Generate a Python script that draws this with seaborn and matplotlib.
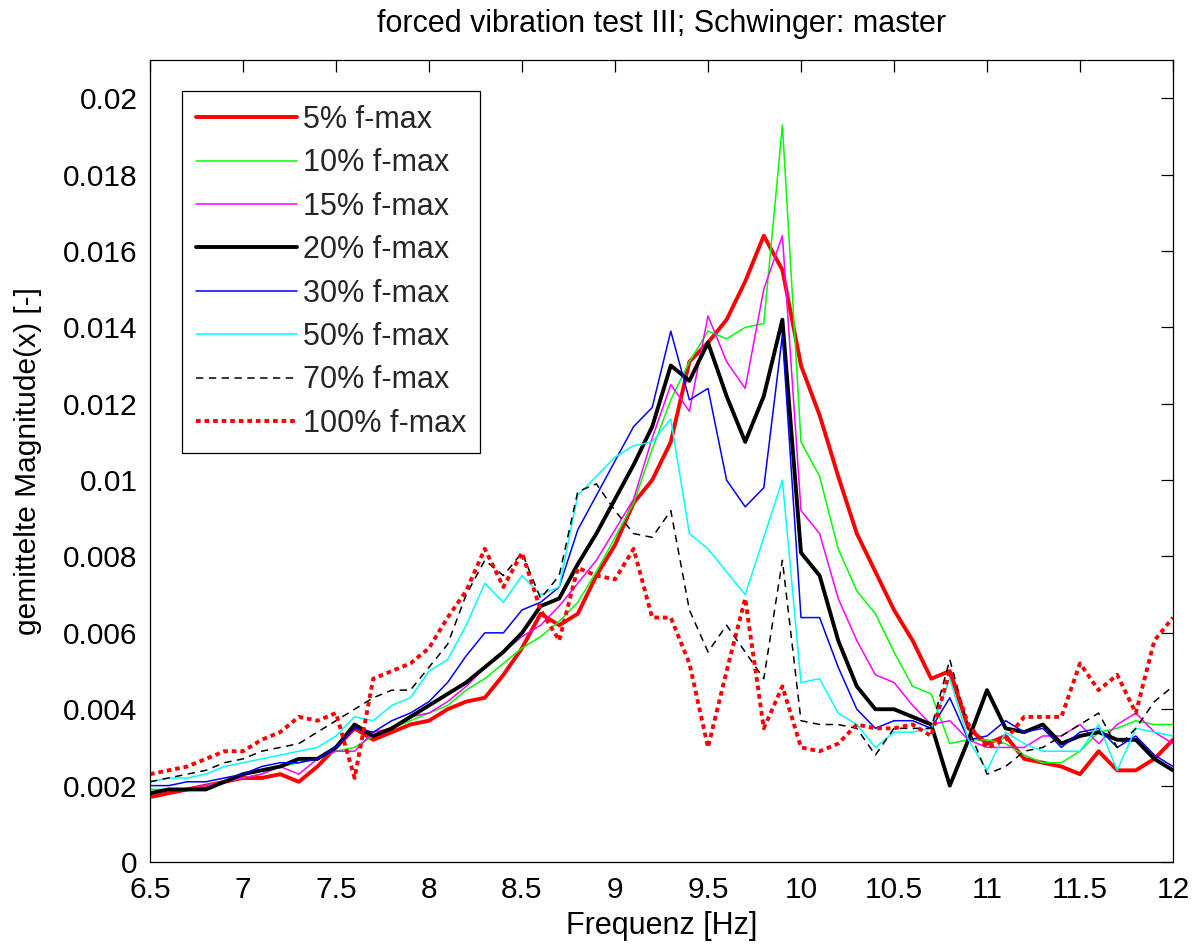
import numpy as np
import pandas as pd
import matplotlib
matplotlib.use("Agg")
import matplotlib.pyplot as plt
import seaborn as sns

# ---------------- data ----------------
freq = [6.5, 6.6, 6.7, 6.8, 6.9, 7.0, 7.1, 7.2, 7.3, 7.4,
        7.5, 7.6, 7.7, 7.8, 7.9, 8.0, 8.1, 8.2, 8.3, 8.4,
        8.5, 8.6, 8.7, 8.8, 8.9, 9.0, 9.1, 9.2, 9.3, 9.4,
        9.5, 9.6, 9.7, 9.8, 9.9, 10.0, 10.1, 10.2, 10.3, 10.4,
        10.5, 10.6, 10.7, 10.8, 10.9, 11.0, 11.1, 11.2, 11.3, 11.4,
        11.5, 11.6, 11.7, 11.8, 11.9, 12.0]

mag_05 = [0.0017, 0.0018, 0.0019, 0.0020, 0.0021, 0.0022, 0.0022, 0.0023, 0.0021, 0.0025,
          0.0030, 0.0035, 0.0032, 0.0034, 0.0036, 0.0037, 0.0040, 0.0042, 0.0043, 0.0049,
          0.0056, 0.0065, 0.0062, 0.0065, 0.0075, 0.0083, 0.0094, 0.0100, 0.0110, 0.0131,
          0.0136, 0.0142, 0.0152, 0.0164, 0.0155, 0.0130, 0.0117, 0.0101, 0.0086, 0.0076,
          0.0066, 0.0058, 0.0048, 0.0050, 0.0035, 0.0031, 0.0033, 0.0027, 0.0026, 0.0025,
          0.0023, 0.0029, 0.0024, 0.0024, 0.0027, 0.0032]

mag_10 = [0.0019, 0.0019, 0.0019, 0.0020, 0.0021, 0.0022, 0.0023, 0.0025, 0.0026, 0.0027,
          0.0029, 0.0030, 0.0033, 0.0035, 0.0037, 0.0039, 0.0041, 0.0045, 0.0048, 0.0052,
          0.0056, 0.0059, 0.0063, 0.0068, 0.0076, 0.0085, 0.0094, 0.0108, 0.0121, 0.0131,
          0.0139, 0.0137, 0.0140, 0.0141, 0.0193, 0.0110, 0.0101, 0.0082, 0.0071, 0.0065,
          0.0055, 0.0046, 0.0044, 0.0031, 0.0032, 0.0032, 0.0031, 0.0028, 0.0026, 0.0026,
          0.0029, 0.0034, 0.0035, 0.0037, 0.0036, 0.0036]

mag_15 = [0.0018, 0.0019, 0.0019, 0.0020, 0.0021, 0.0022, 0.0023, 0.0025, 0.0023, 0.0027,
          0.0029, 0.0029, 0.0034, 0.0035, 0.0038, 0.0039, 0.0042, 0.0046, 0.0051, 0.0055,
          0.0059, 0.0062, 0.0067, 0.0073, 0.0079, 0.0087, 0.0095, 0.0111, 0.0125, 0.0118,
          0.0143, 0.0131, 0.0124, 0.0150, 0.0164, 0.0092, 0.0086, 0.0069, 0.0058, 0.0049,
          0.0047, 0.0041, 0.0036, 0.0037, 0.0032, 0.0030, 0.0030, 0.0030, 0.0033, 0.0033,
          0.0036, 0.0031, 0.0036, 0.0039, 0.0034, 0.0031]

mag_20 = [0.0018, 0.0019, 0.0019, 0.0019, 0.0021, 0.0023, 0.0024, 0.0025, 0.0027, 0.0027,
          0.0030, 0.0036, 0.0033, 0.0035, 0.0038, 0.0041, 0.0044, 0.0047, 0.0051, 0.0055,
          0.0060, 0.0067, 0.0069, 0.0078, 0.0086, 0.0095, 0.0104, 0.0114, 0.0130, 0.0126,
          0.0136, 0.0122, 0.0110, 0.0122, 0.0142, 0.0081, 0.0075, 0.0058, 0.0046, 0.0040,
          0.0040, 0.0038, 0.0036, 0.0020, 0.0032, 0.0045, 0.0035, 0.0034, 0.0036, 0.0031,
          0.0033, 0.0034, 0.0032, 0.0032, 0.0027, 0.0024]

mag_30 = [0.0020, 0.0020, 0.0021, 0.0021, 0.0022, 0.0023, 0.0025, 0.0026, 0.0026, 0.0027,
          0.0030, 0.0035, 0.0034, 0.0037, 0.0039, 0.0042, 0.0047, 0.0054, 0.0060, 0.0060,
          0.0066, 0.0068, 0.0072, 0.0087, 0.0096, 0.0105, 0.0114, 0.0119, 0.0139, 0.0121,
          0.0124, 0.0100, 0.0093, 0.0098, 0.0138, 0.0064, 0.0064, 0.0051, 0.0040, 0.0035,
          0.0037, 0.0037, 0.0035, 0.0043, 0.0032, 0.0033, 0.0037, 0.0034, 0.0035, 0.0030,
          0.0034, 0.0035, 0.0030, 0.0033, 0.0028, 0.0025]

mag_50 = [0.0021, 0.0022, 0.0022, 0.0023, 0.0025, 0.0026, 0.0027, 0.0028, 0.0029, 0.0030,
          0.0033, 0.0038, 0.0037, 0.0041, 0.0043, 0.0050, 0.0053, 0.0062, 0.0073, 0.0068,
          0.0075, 0.0070, 0.0072, 0.0096, 0.0101, 0.0106, 0.0109, 0.0110, 0.0116, 0.0086,
          0.0082, 0.0076, 0.0070, 0.0085, 0.0100, 0.0047, 0.0048, 0.0039, 0.0036, 0.0030,
          0.0034, 0.0034, 0.0035, 0.0048, 0.0032, 0.0024, 0.0034, 0.0031, 0.0029, 0.0029,
          0.0029, 0.0036, 0.0024, 0.0035, 0.0034, 0.0033]

mag_70 = [0.0021, 0.0022, 0.0023, 0.0024, 0.0026, 0.0027, 0.0029, 0.0030, 0.0031, 0.0034,
          0.0037, 0.0040, 0.0043, 0.0045, 0.0045, 0.0051, 0.0057, 0.0070, 0.0079, 0.0075,
          0.0081, 0.0069, 0.0075, 0.0097, 0.0099, 0.0092, 0.0086, 0.0085, 0.0092, 0.0066,
          0.0055, 0.0062, 0.0055, 0.0048, 0.0079, 0.0037, 0.0036, 0.0036, 0.0035, 0.0028,
          0.0035, 0.0035, 0.0035, 0.0053, 0.0035, 0.0023, 0.0025, 0.0029, 0.0030, 0.0033,
          0.0036, 0.0039, 0.0030, 0.0035, 0.0042, 0.0046]

mag_100 = [0.0023, 0.0024, 0.0025, 0.0027, 0.0029, 0.0029, 0.0032, 0.0034, 0.0038, 0.0037,
           0.0039, 0.0022, 0.0048, 0.0050, 0.0052, 0.0056, 0.0064, 0.0071, 0.0082, 0.0072,
           0.0081, 0.0066, 0.0058, 0.0077, 0.0075, 0.0074, 0.0082, 0.0064, 0.0064, 0.0052,
           0.0030, 0.0050, 0.0069, 0.0035, 0.0046, 0.0030, 0.0029, 0.0031, 0.0036, 0.0035,
           0.0035, 0.0036, 0.0033, 0.0050, 0.0036, 0.0030, 0.0032, 0.0038, 0.0038, 0.0038,
           0.0052, 0.0045, 0.0049, 0.0039, 0.0058, 0.0064]

series_labels = ["5% f-max", "10% f-max", "15% f-max", "20% f-max",
                 "30% f-max", "50% f-max", "70% f-max", "100% f-max"]
series_values = [mag_05, mag_10, mag_15, mag_20, mag_30, mag_50, mag_70, mag_100]

x_ticks = [6.5, 7, 7.5, 8, 8.5, 9, 9.5, 10, 10.5, 11, 11.5, 12]
x_tick_labels = ["6.5", "7", "7.5", "8", "8.5", "9", "9.5", "10", "10.5", "11", "11.5", "12"]
y_ticks = [0, 0.002, 0.004, 0.006, 0.008, 0.01, 0.012, 0.014, 0.016, 0.018, 0.02]
y_tick_labels = ["0", "0.002", "0.004", "0.006", "0.008", "0.01", "0.012",
                 "0.014", "0.016", "0.018", "0.02"]

title_text = "forced vibration test III; Schwinger: master"
x_label = "Frequenz [Hz]"
y_label = "gemittelte Magnitude(x) [-]"

# ---------------- styles ----------------
styles = [
    dict(color="#FF0000", linewidth=2.8, linestyle="-"),
    dict(color="#00FF00", linewidth=1.1, linestyle="-"),
    dict(color="#FF00FF", linewidth=1.1, linestyle="-"),
    dict(color="#000000", linewidth=2.8, linestyle="-"),
    dict(color="#0000FF", linewidth=1.1, linestyle="-"),
    dict(color="#00FFFF", linewidth=1.1, linestyle="-"),
    dict(color="#000000", linewidth=1.1, linestyle=(0, (4.8, 3.6))),
    dict(color="#FF0000", linewidth=2.8, linestyle=(0, (1.2, 1.0))),
]

sns.set_style("white")
plt.rcParams["font.family"] = ["Liberation Sans", "DejaVu Sans"]
plt.rcParams["font.size"] = 21

fig = plt.figure(figsize=(11.96, 9.44), dpi=100)
ax = fig.add_axes([150 / 1196, (944 - 862) / 944, (1173 - 150) / 1196, (862 - 60) / 944])

frames = []
for lab, vals in zip(series_labels, series_values):
    frames.append(pd.DataFrame({"freq": freq, "mag": vals, "series": lab}))
df = pd.concat(frames, ignore_index=True)

for lab, st in zip(series_labels, styles):
    sub = df[df["series"] == lab]
    sns.lineplot(data=sub, x="freq", y="mag", ax=ax, label=lab,
                 errorbar=None, sort=False, **st)

ax.set_xlim(6.5, 12)
ax.set_ylim(0, 0.021)
ax.set_xticks(x_ticks)
ax.set_xticklabels(x_tick_labels)
ax.set_yticks(y_ticks)
ax.set_yticklabels(y_tick_labels)

ax.tick_params(axis="both", which="both", direction="in", length=8.5, width=0.9,
               top=True, right=True, labelsize=21.5, color="black", labelcolor="black")
ax.tick_params(axis="x", pad=10)
ax.tick_params(axis="y", pad=9)

for sp in ax.spines.values():
    sp.set_color("black")
    sp.set_linewidth(0.9)

ax.set_title(title_text, fontsize=22, pad=20, color="black")
ax.set_xlabel(x_label, fontsize=22, labelpad=5, color="black")
ax.set_ylabel(y_label, fontsize=21.5, labelpad=15, color="black")

leg = ax.legend(loc="upper left", bbox_to_anchor=((182 - 150) / 1023, (862 - 91) / 802),
                borderaxespad=0, fontsize=22, frameon=True, fancybox=False,
                framealpha=1, edgecolor="black", handlelength=3.3, handletextpad=0.2,
                labelspacing=0.44, borderpad=0.45)
leg.get_frame().set_linewidth(0.9)

fig.savefig("out.png", dpi=100, facecolor="white")
